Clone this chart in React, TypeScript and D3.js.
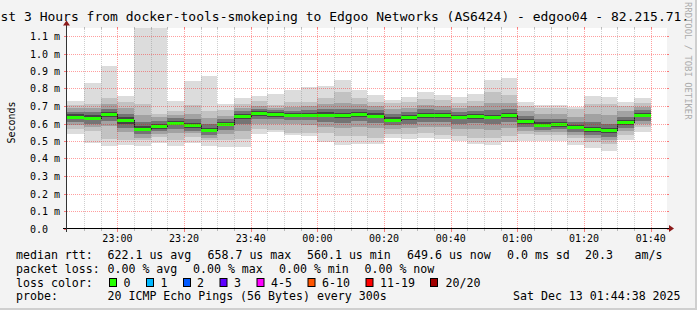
import React from "react";
import * as d3 from "d3";

// ---- data ----
const barStarts = [
  "22:45", "22:50", "22:55", "23:00", "23:05", "23:10", "23:15", "23:20", "23:25", "23:30",
  "23:35", "23:40", "23:45", "23:50", "23:55", "00:00", "00:05", "00:10", "00:15", "00:20",
  "00:25", "00:30", "00:35", "00:40", "00:45", "00:50", "00:55", "01:00", "01:05", "01:10",
  "01:15", "01:20", "01:25", "01:30", "01:35",
];
// ping distribution per 5-min step (ms), outer -> inner
const pingMax = [.727, .834, .927, .756, 1.2, 1.2, .727, .842, .872, .714, .746, .756, .771, .79, .809, .814, .847, .79, .762, .735, .75, .781, .765, .752, .768, .847, .86, .721, .705, .705, .695, .757, .75, .721, .745];
const ping19 = [.705, .714, .746, .724, .709, .657, .67, .705, .67, .676, .714, .727, .705, .724, .725, .745, .78, .745, .725, .715, .725, .74, .735, .72, .73, .78, .76, .70, .69, .69, .68, .71, .71, .70, .72];
const ping16 = [.686, .69, .71, .69, .65, .635, .65, .655, .63, .645, .69, .70, .69, .695, .70, .71, .72, .71, .70, .68, .69, .705, .70, .69, .70, .715, .715, .67, .655, .655, .64, .655, .65, .67, .695];
const ping13 = [.668, .667, .685, .655, .61, .615, .63, .625, .60, .625, .67, .683, .675, .673, .675, .68, .685, .685, .675, .655, .665, .68, .675, .665, .673, .675, .68, .645, .625, .625, .61, .61, .60, .64, .675];
const ping11 = [.652, .648, .668, .635, .585, .598, .615, .603, .577, .61, .655, .67, .665, .662, .662, .663, .66, .667, .658, .635, .648, .662, .66, .65, .655, .651, .66, .627, .606, .607, .593, .58, .573, .621, .662];
const medianRtt = [.638, .634, .655, .621, .571, .585, .604, .590, .564, .598, .642, .6587, .655, .651, .651, .651, .648, .654, .645, .622, .635, .648, .647, .638, .643, .638, .648, .614, .593, .595, .581, .567, .5601, .608, .6496];
const ping10 = [.625, .62, .64, .60, .555, .57, .59, .577, .55, .585, .625, .645, .64, .638, .638, .635, .63, .64, .63, .608, .62, .633, .632, .623, .628, .623, .633, .60, .58, .582, .568, .553, .546, .594, .635];
const ping8 = [.606, .60, .615, .575, .54, .555, .57, .56, .535, .565, .60, .625, .625, .62, .62, .61, .605, .615, .605, .59, .60, .61, .61, .60, .605, .60, .61, .58, .565, .567, .552, .535, .525, .575, .615];
const ping5 = [.59, .58, .585, .55, .52, .54, .545, .545, .52, .54, .56, .60, .60, .595, .59, .58, .575, .58, .575, .57, .575, .58, .58, .57, .57, .565, .575, .56, .55, .55, .535, .515, .505, .555, .595];
const ping2 = [.567, .556, .514, .505, .505, .524, .505, .524, .505, .505, .514, .571, .565, .545, .545, .545, .53, .53, .52, .54, .54, .545, .535, .53, .52, .52, .53, .54, .535, .535, .515, .495, .485, .535, .58];
const pingMin = [.541, .491, .472, .476, .472, .486, .472, .491, .472, .466, .466, .539, .552, .533, .528, .495, .478, .483, .483, .519, .511, .518, .512, .50, .484, .476, .495, .498, .502, .50, .478, .462, .443, .507, .552];

const yTicks = [0, 0.1, 0.2, 0.3, 0.4, 0.5, 0.6, 0.7, 0.8, 0.9, 1.0, 1.1];
const yTickLabels = ["0.0", "0.1 m", "0.2 m", "0.3 m", "0.4 m", "0.5 m", "0.6 m", "0.7 m", "0.8 m", "0.9 m", "1.0 m", "1.1 m"];
const xTickLabels = ["23:00", "23:20", "23:40", "00:00", "00:20", "00:40", "01:00", "01:20", "01:40"];

const titleText = "st 3 Hours from docker-tools-smokeping to Edgoo Networks (AS6424) - edgoo04 - 82.215.71.";
const rttRow = [
  ["median rtt:", 16], ["622.1 us avg", 107.5], ["658.7 us max", 207.5], ["560.1 us min", 307],
  ["649.6 us now", 407], ["0.0 ms sd", 507], ["20.3", 585], ["am/s", 634.5],
] as [string, number][];
const lossRow = [
  ["packet loss:", 16], ["0.00 % avg", 107.5], ["0.00 % max", 193], ["0.00 % min", 279], ["0.00 % now", 364.5],
] as [string, number][];
const lossLabels = ["0", "1", "2", "3", "4-5", "6-10", "11-19", "20/20"];
const lossColors = ["#26ff00", "#00b8ff", "#0059ff", "#5e00ff", "#ff00ff", "#ff5500", "#ff0000", "#a10000"];
const lossSwatchX = [109, 146, 183, 219.5, 256.5, 307.5, 365.5, 430];
const lossTextX = [123.5, 160.5, 197, 234, 271, 322, 380, 445.5];
const probeText = "20 ICMP Echo Pings (56 Bytes) every 300s";
const dateText = "Sat Dec 13 01:44:38 2025";

const toDate = (hm: string) => {
  const [h, m] = hm.split(":").map(Number);
  return new Date(2025, 11, h >= 12 ? 12 : 13, h, m, 0);
};

const W = 697, H = 310;
const PL = 67, PR = 667, PT = 28.5, PB = 228.5;
const MONO = "'DejaVu Sans Mono', monospace";

export default function App() {
  const start = new Date(2025, 11, 12, 22, 44, 38);
  const end = new Date(2025, 11, 13, 1, 44, 38);
  const x = d3.scaleTime().domain([start, end]).range([PL - 0.8, PR - 0.8]);
  const y = d3.scaleLinear().domain([0, 200 / 175]).range([PB, PT]);

  const minorTicks = d3.timeMinute.every(5)!.range(start, end);
  const layers: [number[], number[], string][] = [
    [pingMin, pingMax, "#dcdcdc"],
    [ping2, ping19, "#c2c2c2"],
    [ping5, ping16, "#a2a2a2"],
    [ping8, ping13, "#747474"],
    [ping10, ping11, "#454545"],
  ];
  const t0 = (i: number) => toDate(barStarts[i]);
  const t1 = (i: number) => d3.timeMinute.offset(toDate(barStarts[i]), 5);
  const bx = (i: number) => Math.round(x(t0(i)));
  const bx2 = (i: number) => Math.round(x(t1(i)));
  const medianPts: [Date, number][] = medianRtt.map((v, i) => [t0(i), v] as [Date, number]);
  medianPts.push([t1(medianRtt.length - 1), medianRtt[medianRtt.length - 1]]);
  const medianPath = d3.line<[Date, number]>()
    .x((d) => Math.round(x(d[0])))
    .y((d) => Math.round(y(d[1])) + 0.5)
    .curve(d3.curveStepAfter);

  return (
    <svg width={W} height={H} style={{ position: "absolute", left: 0, top: 0 }} fontFamily={MONO}>
      <defs>
        <clipPath id="plot"><rect x={PL} y={PT - 0.5} width={PR - PL} height={PB - PT + 0.5} /></clipPath>
      </defs>
      <rect x={0} y={0} width={W} height={H} fill="#f3f3f3" />
      <rect x={W - 2} y={0} width={2} height={H} fill="#cfcfcf" />
      <rect x={0} y={H - 2} width={W} height={2} fill="#cfcfcf" />
      <rect x={PL} y={PT - 0.5} width={PR - PL} height={PB - PT + 0.5} fill="#ffffff" />

      <g clipPath="url(#plot)" shapeRendering="crispEdges">
        {layers.map(([lo, hi, col], li) => (
          <g key={li} fill={col}>
            {barStarts.map((_, i) => (
              <rect key={i} x={bx(i)} width={bx2(i) - bx(i)}
                y={Math.round(y(hi[i]))} height={Math.round(y(lo[i])) - Math.round(y(hi[i]))} />
            ))}
          </g>
        ))}
        <path d={medianPath(medianPts) || ""} fill="none" stroke="#202020" strokeWidth={1} />
        {barStarts.map((_, i) => (
          <rect key={"m" + i} x={bx(i)} width={bx2(i) - bx(i)} y={Math.round(y(medianRtt[i])) - 1} height={3} fill={lossColors[0]} />
        ))}
      </g>

      {/* grid */}
      <g shapeRendering="crispEdges">
        {minorTicks.map((t, i) => {
          const major = t.getMinutes() % 20 === 0;
          const xx = Math.round(x(t)) + 0.5;
          if (xx <= PL + 1) return null;
          return (
            <g key={"v" + i}>
              <line x1={xx} x2={xx} y1={PT} y2={PB} stroke={major ? "rgba(255,0,0,0.38)" : "rgba(128,128,128,0.38)"} strokeDasharray="1,1" />
              <line x1={xx} x2={xx} y1={PB} y2={PB + (major ? 3 : 2)} stroke={major ? "rgba(255,0,0,0.5)" : "rgba(128,128,128,0.5)"} />
              <line x1={xx} x2={xx} y1={PT - 2} y2={PT} stroke={major ? "rgba(255,0,0,0.5)" : "rgba(128,128,128,0.5)"} />
            </g>
          );
        })}
        {yTicks.map((v, i) => {
          const yy = Math.round(y(v)) + 0.5;
          return (
            <g key={"h" + i}>
              {v > 0 && <line x1={PL} x2={PR} y1={yy} y2={yy} stroke="rgba(255,0,0,0.38)" strokeDasharray="1,1" />}
              <line x1={PL - 3} x2={PL} y1={yy} y2={yy} stroke="rgba(255,0,0,0.5)" />
              <line x1={PR} x2={PR + 2} y1={yy} y2={yy} stroke="rgba(255,0,0,0.5)" />
            </g>
          );
        })}
        {/* axes */}
        <line x1={PL - 4} x2={PR + 3} y1={PB} y2={PB} stroke="#000" />
        <line x1={PL - 0.5} x2={PL - 0.5} y1={PB + 3} y2={PT - 4} stroke="#333" />
      </g>
      <path d={`M${PR + 2},${PB - 3.5} L${PR + 7},${PB} L${PR + 2},${PB + 3.5} Z`} fill="#8b1a1a" />
      <path d={`M${PL - 4},${PT - 3} L${PL - 0.5},${PT - 8} L${PL + 3},${PT - 3} Z`} fill="#8b1a1a" />

      {/* axis labels */}
      <g fontSize={10} fill="#000">
        {yTicks.map((v, i) => (
          <text key={"yl" + i} x={30} y={Math.round(y(v)) + 4}>{yTickLabels[i]}</text>
        ))}
        {xTickLabels.map((lab, i) => (
          <text key={"xl" + i} x={x(toDate(lab))} y={241.5} textAnchor="middle">{lab}</text>
        ))}
      </g>
      <text transform="translate(14.5,122.5) rotate(-90)" fontSize={10} textAnchor="middle" fill="#000">Seconds</text>

      {/* title & watermark */}
      <text x={0.5} y={20.5} fontSize={13} fill="#000">{titleText}</text>
      <text transform="translate(685,2) rotate(90)" fontSize={8.9} fill="#aaaaaa">RRDTOOL / TOBI OETIKER</text>

      {/* legend */}
      <g fontSize={11.6} fill="#000" style={{ whiteSpace: "pre" }}>
        {rttRow.map(([t, xx], i) => <text key={"r" + i} x={xx} y={259}>{t}</text>)}
        {lossRow.map(([t, xx], i) => <text key={"p" + i} x={xx} y={272.8}>{t}</text>)}
        <text x={16} y={286.6}>loss color:</text>
        {lossLabels.map((lab, i) => (
          <g key={"lc" + i}>
            <rect x={lossSwatchX[i] + 0.5} y={278.5} width={7} height={8} fill={lossColors[i]} stroke="#000" strokeWidth={1} />
            <text x={lossTextX[i]} y={286.6}>{lab}</text>
          </g>
        ))}
        <text x={16} y={300.4}>probe:</text>
        <text x={107.5} y={300.4}>{probeText}</text>
        <text x={513} y={300.4}>{dateText}</text>
      </g>
    </svg>
  );
}
